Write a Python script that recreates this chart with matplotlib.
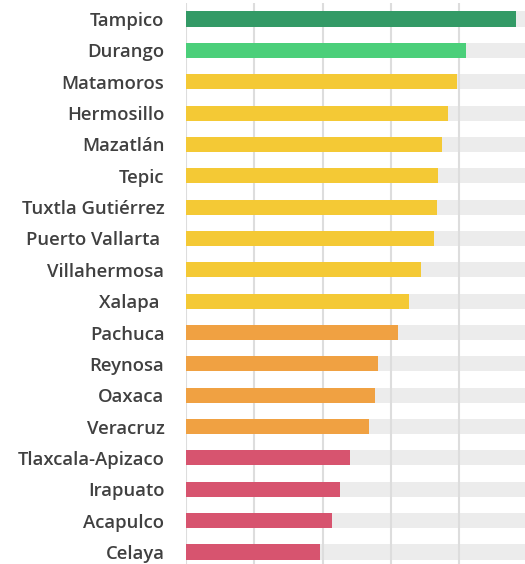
import matplotlib.pyplot as plt
import numpy as np

cities = [
    'Tampico', 'Durango', 'Matamoros', 'Hermosillo', 'Mazatlán', 'Tepic',
    'Tuxtla Gutiérrez', 'Puerto Vallarta ', 'Villahermosa', 'Xalapa ',
    'Pachuca', 'Reynosa', 'Oaxaca', 'Veracruz', 'Tlaxcala-Apizaco',
    'Irapuato', 'Acapulco', 'Celaya',
]
values = [4.83, 4.09, 3.97, 3.84, 3.75, 3.69, 3.67, 3.63, 3.44, 3.27,
          3.10, 2.81, 2.77, 2.68, 2.40, 2.25, 2.14, 1.96]
groups = ['top', 'high', 'mid', 'mid', 'mid', 'mid', 'mid', 'mid', 'mid', 'mid',
          'low', 'low', 'low', 'low', 'bottom', 'bottom', 'bottom', 'bottom']
max_value = 5.0

colors = {
    'top': '#339a66',
    'high': '#4bcf7a',
    'mid': '#f4c935',
    'low': '#f0a142',
    'bottom': '#d7546f',
}


def main():
    fig = plt.figure(figsize=(5.25, 5.64), dpi=100)
    ax = fig.add_axes([186 / 525, 0, 1 - 186 / 525, 1 - 3 / 564])

    y = np.arange(len(cities))
    ax.barh(y, [max_value] * len(cities), height=0.48, color='#ececec', zorder=1)
    ax.barh(y, values, height=0.48, color=[colors[g] for g in groups], zorder=3)

    for gx in range(0, 6):
        ax.axvline(gx, color='#dddddd', linewidth=1.5, zorder=2)

    ax.set_xlim(0, 4.96)
    ax.set_ylim(17 + 12 / 31.35, -16 / 31.35)
    ax.set_yticks(y)
    ax.set_yticklabels(cities, fontsize=13.3, fontweight='semibold',
                       color='#404040', family='Open Sans')
    ax.tick_params(axis='y', length=0, pad=15.5)
    ax.set_xticks([])
    for spine in ax.spines.values():
        spine.set_visible(False)

    fig.savefig('out.png', dpi=100)
    plt.close(fig)


if __name__ == '__main__':
    main()
